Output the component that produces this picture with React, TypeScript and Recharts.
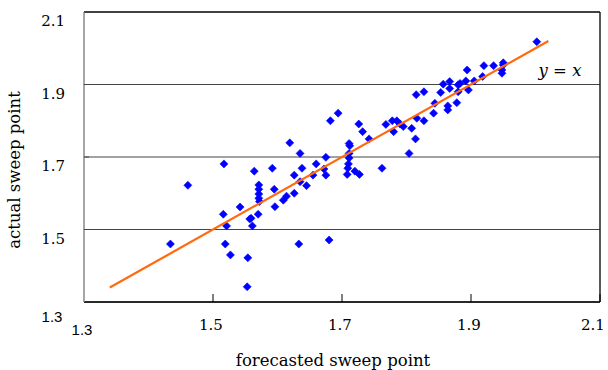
import React from 'react';
import { ScatterChart, Scatter, XAxis, YAxis, CartesianGrid, ReferenceLine, Customized } from 'recharts';

const forecasted = [
  1.517, 1.461, 1.542, 1.516, 1.521, 1.434, 1.519, 1.527, 1.554, 1.553,
  1.557, 1.694, 1.682, 1.619, 1.635, 1.711, 1.564, 1.592, 1.675, 1.660,
  1.638, 1.672, 1.711, 1.711, 1.710, 1.709, 1.708, 1.720, 1.727, 1.762,
  1.804, 1.626, 1.645, 1.635, 1.626, 1.614, 1.609, 1.596, 1.595, 1.571,
  1.571, 1.571, 1.571, 1.572, 1.570, 1.559, 1.561, 1.633, 1.680, 1.655,
  1.675, 1.857, 1.867, 1.880, 1.867, 1.853, 1.827, 1.815, 1.878, 1.864,
  1.864, 1.844, 1.842, 1.816, 1.827, 1.726, 1.732, 1.768, 1.778, 1.785,
  1.790, 1.795, 1.780, 1.808, 1.814, 1.742, 2.002, 1.950, 1.950, 1.948,
  1.948, 1.935, 1.920, 1.894, 1.918, 1.905, 1.892, 1.883, 1.896, 1.880,
  1.712,
];
const actual = [
  1.681, 1.622, 1.562, 1.542, 1.510, 1.460, 1.460, 1.430, 1.422, 1.342,
  1.529, 1.821, 1.800, 1.739, 1.710, 1.737, 1.661, 1.669, 1.699, 1.681,
  1.669, 1.667, 1.710, 1.697, 1.681, 1.669, 1.652, 1.661, 1.652, 1.669,
  1.710, 1.650, 1.621, 1.632, 1.600, 1.592, 1.581, 1.563, 1.611, 1.623,
  1.611, 1.598, 1.586, 1.577, 1.542, 1.531, 1.510, 1.460, 1.471, 1.650,
  1.650, 1.901, 1.908, 1.899, 1.889, 1.878, 1.880, 1.872, 1.850, 1.841,
  1.830, 1.848, 1.821, 1.807, 1.800, 1.791, 1.770, 1.790, 1.800, 1.800,
  1.791, 1.784, 1.770, 1.779, 1.750, 1.750, 2.018, 1.960, 1.954, 1.940,
  1.931, 1.952, 1.952, 1.940, 1.922, 1.910, 1.910, 1.903, 1.885, 1.880,
  1.731,
];
const identityLine = [1.34, 2.02];
const ticks = [1.3, 1.5, 1.7, 1.9, 2.1];
const xTitle = 'forecasted sweep point';
const yTitle = 'actual sweep point';
const lineLabel = 'y = x';

const points = forecasted.map((x, i) => ({ x, y: actual[i] }));
const lineData = identityLine.map((v) => ({ x: v, y: v }));

const SERIF = '"DejaVu Serif", serif';
const SANS = '"Liberation Sans", Arial, sans-serif';

const Diamond = (props: any) => {
  const { cx, cy } = props;
  if (cx == null || cy == null) return <g />;
  const r = 4;
  return (
    <polygon
      points={`${cx},${cy - r} ${cx + r},${cy} ${cx},${cy + r} ${cx - r},${cy}`}
      fill="#0000FF"
      stroke="#0000FF"
      strokeWidth={0.6}
    />
  );
};

const XTick = (props: any) => {
  const { x, y, payload } = props;
  const v = payload.value;
  if (Math.abs(v - 1.3) < 1e-6) {
    return (
      <text x={x - 2} y={y + 27} textAnchor="middle" dominantBaseline="central" fontFamily={SANS} fontSize={15} fill="#000">
        1.3
      </text>
    );
  }
  const dx = Math.abs(v - 2.1) < 1e-6 ? -7 : -2;
  return (
    <g>
      <line x1={x} y1={y - 8} x2={x} y2={y} stroke="#000" strokeWidth={1} />
      <text x={x + dx} y={y + 23} textAnchor="middle" dominantBaseline="central" fontFamily={SERIF} fontSize={15} fill="#000">
        {v.toFixed(1)}
      </text>
    </g>
  );
};

const YTick = (props: any) => {
  const { x, y, payload } = props;
  const v = payload.value;
  if (Math.abs(v - 1.3) < 1e-6) {
    return (
      <text x={x - 32} y={y + 14} textAnchor="middle" dominantBaseline="central" fontFamily={SANS} fontSize={15} fill="#000">
        1.3
      </text>
    );
  }
  return (
    <g>
      <line x1={x} y1={y} x2={x + 5} y2={y} stroke="#444" strokeWidth={1} />
      <text x={x - 19} y={y + 9} textAnchor="end" dominantBaseline="central" fontFamily={SERIF} fontSize={15} fill="#000">
        {v.toFixed(1)}
      </text>
    </g>
  );
};

const Titles = () => (
  <g>
    <text x={333} y={360} textAnchor="middle" dominantBaseline="central" fontFamily={SERIF} fontSize={16.5} fill="#000">
      {xTitle}
    </text>
    <text
      x={14}
      y={170}
      textAnchor="middle"
      dominantBaseline="central"
      fontFamily={SERIF}
      fontSize={16.5}
      fill="#000"
      transform="rotate(-90 14 170)"
    >
      {yTitle}
    </text>
    <text x={560} y={70} textAnchor="middle" dominantBaseline="central" fontFamily={SERIF} fontStyle="italic" fontSize={16.5} fill="#000">
      {lineLabel}
    </text>
  </g>
);

export default function App() {
  return (
    <div style={{ position: 'absolute', left: 0, top: 0, width: 608, height: 370, background: '#fff' }}>
      <ScatterChart width={608} height={370} margin={{ top: 12, right: 8, bottom: 0, left: 0 }}>
        <CartesianGrid horizontal vertical={false} stroke="#444" strokeWidth={1} />
        <XAxis
          type="number"
          dataKey="x"
          domain={[1.3, 2.1]}
          ticks={ticks}
          height={68}
          tickSize={0}
          tickMargin={0}
          tickLine={false}
          axisLine={{ stroke: '#000', strokeWidth: 1.5 }}
          tick={<XTick />}
          interval={0}
        />
        <YAxis
          type="number"
          dataKey="y"
          domain={[1.3, 2.1]}
          ticks={ticks}
          width={84}
          tickSize={0}
          tickMargin={0}
          tickLine={false}
          axisLine={{ stroke: '#888', strokeWidth: 1.5 }}
          tick={<YTick />}
          interval={0}
        />
        <ReferenceLine y={2.1} stroke="#222" strokeWidth={1.5} />
        <ReferenceLine x={2.1} stroke="#222" strokeWidth={1.5} />
        <Scatter data={points} shape={<Diamond />} isAnimationActive={false} />
        <Scatter
          data={lineData}
          line={{ stroke: '#FF6A10', strokeWidth: 2.2 }}
          shape={() => <g />}
          isAnimationActive={false}
        />
        <Customized component={<Titles />} />
      </ScatterChart>
    </div>
  );
}
